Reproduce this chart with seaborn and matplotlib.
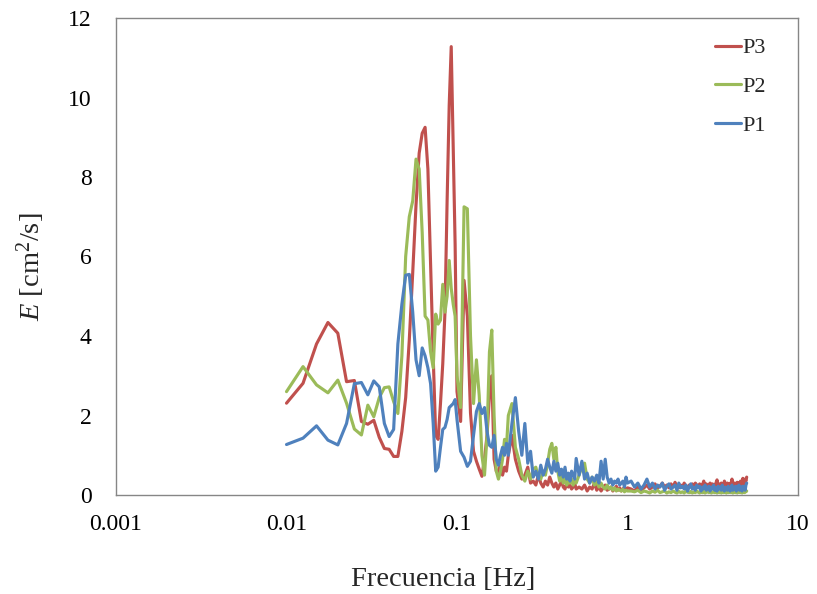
import numpy as np
import pandas as pd
import matplotlib
matplotlib.use("Agg")
import matplotlib.pyplot as plt
import seaborn as sns
from matplotlib.ticker import FixedLocator, NullLocator, FixedFormatter

# ---- frequency grid (Hz) ----
freq = np.round(np.concatenate([
    np.arange(0.01, 0.1001, 0.0025),
    np.arange(0.105, 0.2001, 0.005),
    np.arange(0.21, 0.5001, 0.01),
    np.arange(0.52, 1.0001, 0.02),
    np.arange(1.05, 5.0001, 0.05),
]), 4)

# ---- P3 ----
p3_low = [2.31, 2.81, 3.80, 4.34, 4.07, 2.85, 2.88, 1.85, 1.78, 1.88,
          1.45, 1.17, 1.15, 0.97, 0.97, 1.60, 2.45, 3.90, 5.60, 7.30,
          8.60, 9.10, 9.25, 8.20, 5.80, 3.50, 1.50, 1.40, 2.30, 3.30,
          4.60, 7.40, 9.80, 11.28, 8.70, 6.30, 2.60]
p3_seg2 = [1.85, 5.40, 4.50, 2.06, 1.10, 0.85, 0.65, 0.47, 0.90, 1.50,
           2.50, 3.00, 0.90, 0.60, 0.55, 0.80, 0.50, 0.70, 0.60, 1.00]
p3_seg3 = [1.50, 0.90, 0.60, 0.40, 0.50, 0.70, 0.30, 0.35, 0.25, 0.50,
           0.30, 0.20, 0.35, 0.25, 0.45, 0.30, 0.20, 0.30, 0.15, 0.25,
           0.35, 0.20, 0.15, 0.30, 0.20, 0.25, 0.15, 0.20, 0.30, 0.15]
p3_seg4 = [0.20, 0.15, 0.25, 0.10, 0.20, 0.15, 0.30, 0.12, 0.20, 0.10,
           0.18, 0.25, 0.12, 0.15, 0.20, 0.10, 0.15, 0.22, 0.12, 0.18,
           0.10, 0.15, 0.20, 0.12, 0.18]
p3_tail = [0.15, 0.10, 0.20, 0.12, 0.18, 0.25, 0.15, 0.20, 0.28, 0.18,
           0.22, 0.30, 0.20, 0.25, 0.18, 0.28, 0.20, 0.32, 0.22, 0.18,
           0.25, 0.20, 0.30, 0.22, 0.18, 0.25, 0.20, 0.28, 0.22, 0.30,
           0.25, 0.20, 0.28, 0.22, 0.25, 0.35, 0.22, 0.28, 0.20, 0.25,
           0.30, 0.22, 0.28, 0.25, 0.20, 0.30, 0.38, 0.25, 0.22, 0.28,
           0.30, 0.25, 0.22, 0.35, 0.28, 0.25, 0.30, 0.22, 0.28, 0.25,
           0.30, 0.40, 0.28, 0.25, 0.30, 0.22, 0.28, 0.32, 0.25, 0.30,
           0.28, 0.35, 0.25, 0.30, 0.42, 0.30, 0.28, 0.40, 0.35, 0.45]

# ---- P2 ----
p2_low = [2.60, 3.23, 2.77, 2.57, 2.89, 2.31, 1.66, 1.51, 2.26, 1.97,
          2.45, 2.70, 2.72, 2.35, 2.05, 3.50, 6.00, 7.00, 7.40, 8.45,
          8.20, 6.60, 4.50, 4.40, 3.60, 3.20, 4.55, 4.30, 4.40, 5.30,
          4.60, 5.00, 5.90, 5.20, 4.80, 4.50, 3.00]
p2_seg2 = [2.20, 7.25, 7.20, 4.00, 2.30, 3.40, 2.50, 1.00, 0.50, 1.50,
           3.60, 4.15, 2.00, 0.60, 0.40, 0.60, 0.90, 1.40, 1.20, 2.00]
p2_seg3 = [2.30, 1.20, 0.90, 0.50, 0.35, 0.60, 0.40, 0.65, 0.70, 0.45,
           0.40, 0.60, 0.50, 0.80, 1.15, 1.30, 0.90, 1.20, 0.60, 0.35,
           0.50, 0.30, 0.45, 0.25, 0.35, 0.30, 0.40, 0.25, 0.35, 0.30]
p2_seg4 = [0.50, 0.70, 0.80, 0.40, 0.30, 0.45, 0.25, 0.35, 0.20, 0.30,
           0.20, 0.15, 0.25, 0.15, 0.20, 0.12, 0.18, 0.10, 0.15, 0.12,
           0.10, 0.15, 0.08, 0.12, 0.10]
p2_tail = [0.10, 0.08, 0.12, 0.06, 0.10, 0.08, 0.05, 0.10, 0.07, 0.12,
           0.06, 0.08, 0.10, 0.05, 0.08, 0.06, 0.10, 0.07, 0.05, 0.09,
           0.06, 0.08, 0.05, 0.10, 0.07, 0.06, 0.09, 0.05, 0.08, 0.06,
           0.10, 0.07, 0.05, 0.08, 0.06, 0.09, 0.05, 0.07, 0.10, 0.06,
           0.08, 0.05, 0.07, 0.09, 0.06, 0.08, 0.05, 0.10, 0.06, 0.07,
           0.05, 0.08, 0.06, 0.09, 0.07, 0.05, 0.08, 0.06, 0.10, 0.07,
           0.06, 0.09, 0.05, 0.07, 0.08, 0.06, 0.10, 0.05, 0.08, 0.07,
           0.09, 0.06, 0.08, 0.05, 0.10, 0.07, 0.06, 0.09, 0.08, 0.10]

# ---- P1 ----
p1_low = [1.27, 1.43, 1.74, 1.38, 1.26, 1.80, 2.80, 2.83, 2.52, 2.87,
          2.72, 1.80, 1.47, 1.65, 3.80, 4.80, 5.53, 5.55, 4.60, 3.40,
          3.00, 3.70, 3.50, 3.20, 2.80, 1.80, 0.60, 0.70, 1.20, 1.65,
          1.70, 1.90, 2.20, 2.25, 2.30, 2.40, 1.90]
p1_seg2 = [1.10, 0.95, 0.72, 0.85, 1.50, 2.10, 2.30, 2.05, 2.20, 1.60,
           1.25, 1.20, 1.50, 0.90, 0.75, 1.00, 1.20, 1.00, 1.30, 1.00]
p1_seg3 = [1.80, 2.45, 1.60, 1.00, 1.80, 0.80, 1.10, 0.45, 0.60, 0.40,
           0.75, 0.50, 0.65, 0.90, 0.70, 0.55, 0.85, 0.60, 0.80, 0.50,
           0.65, 0.45, 0.70, 0.40, 0.55, 0.35, 0.60, 0.50, 0.40, 0.92]
p1_seg4 = [0.50, 0.85, 0.40, 0.55, 0.30, 0.45, 0.35, 0.50, 0.30, 0.85,
           0.40, 0.90, 0.45, 0.30, 0.40, 0.25, 0.35, 0.30, 0.40, 0.25,
           0.30, 0.35, 0.20, 0.45, 0.30]
p1_tail = [0.35, 0.20, 0.30, 0.15, 0.25, 0.40, 0.20, 0.30, 0.15, 0.25,
           0.20, 0.30, 0.12, 0.22, 0.28, 0.15, 0.20, 0.25, 0.12, 0.30,
           0.18, 0.22, 0.15, 0.25, 0.10, 0.20, 0.28, 0.15, 0.20, 0.12,
           0.25, 0.18, 0.22, 0.10, 0.20, 0.15, 0.25, 0.12, 0.18, 0.22,
           0.10, 0.20, 0.15, 0.25, 0.12, 0.18, 0.10, 0.22, 0.15, 0.20,
           0.12, 0.25, 0.15, 0.10, 0.20, 0.18, 0.12, 0.22, 0.15, 0.10,
           0.20, 0.25, 0.12, 0.18, 0.15, 0.22, 0.10, 0.20, 0.15, 0.25,
           0.12, 0.18, 0.20, 0.10, 0.22, 0.15, 0.20, 0.12, 0.25, 0.30]

series_names = ["P3", "P2", "P1"]
colors = {"P3": "#C0504D", "P2": "#9BBB59", "P1": "#4F81BD"}
x_ticks = [0.001, 0.01, 0.1, 1, 10]
x_tick_labels = ["0.001", "0.01", "0.1", "1", "10"]
y_ticks = [0, 2, 4, 6, 8, 10, 12]

values = {
    "P3": p3_low + p3_seg2 + p3_seg3 + p3_seg4 + p3_tail,
    "P2": p2_low + p2_seg2 + p2_seg3 + p2_seg4 + p2_tail,
    "P1": p1_low + p1_seg2 + p1_seg3 + p1_seg4 + p1_tail,
}
frames = [pd.DataFrame({"f": freq, "E": values[n], "serie": n}) for n in series_names]
df = pd.concat(frames, ignore_index=True)

sns.set_style("white")
plt.rcParams["font.family"] = ["Liberation Serif", "DejaVu Serif"]
plt.rcParams["mathtext.fontset"] = "custom"
plt.rcParams["mathtext.rm"] = "Liberation Serif"
plt.rcParams["mathtext.it"] = "Liberation Serif:italic"

fig = plt.figure(figsize=(8.17, 5.94), dpi=100)
ax = fig.add_axes([116 / 817, 1 - 495 / 594, (798 - 116) / 817, (495 - 18) / 594])

sns.lineplot(data=df, x="f", y="E", hue="serie", hue_order=series_names,
             palette=colors, estimator=None, sort=False, linewidth=2.25, ax=ax)

ax.set_xscale("log")
ax.set_xlim(0.001, 10)
ax.set_ylim(0, 12)
ax.xaxis.set_major_locator(FixedLocator(x_ticks))
ax.xaxis.set_major_formatter(FixedFormatter(x_tick_labels))
ax.xaxis.set_minor_locator(NullLocator())
ax.yaxis.set_major_locator(FixedLocator(y_ticks))
ax.tick_params(axis="both", length=0, labelsize=17, colors="black")
ax.tick_params(axis="x", pad=14)
ax.tick_params(axis="y", pad=17.5)

for s in ax.spines.values():
    s.set_color("#868686")
    s.set_linewidth(1.0)

ax.set_xlabel("Frecuencia [Hz]", fontsize=20.5, labelpad=23)
ax.set_ylabel(r"$E$ [cm$^2$/s]", fontsize=20.5, labelpad=15)
ax.xaxis.label.set_x(0.48)
ax.yaxis.label.set_y(0.478)

leg = ax.legend(loc="upper left", bbox_to_anchor=(0.865, 0.977), frameon=False,
                fontsize=16, handlelength=1.2, handletextpad=0.05,
                labelspacing=0.82, borderaxespad=0, title=None)
for line in leg.get_lines():
    line.set_linewidth(2.25)

fig.savefig("out.png", dpi=100)
